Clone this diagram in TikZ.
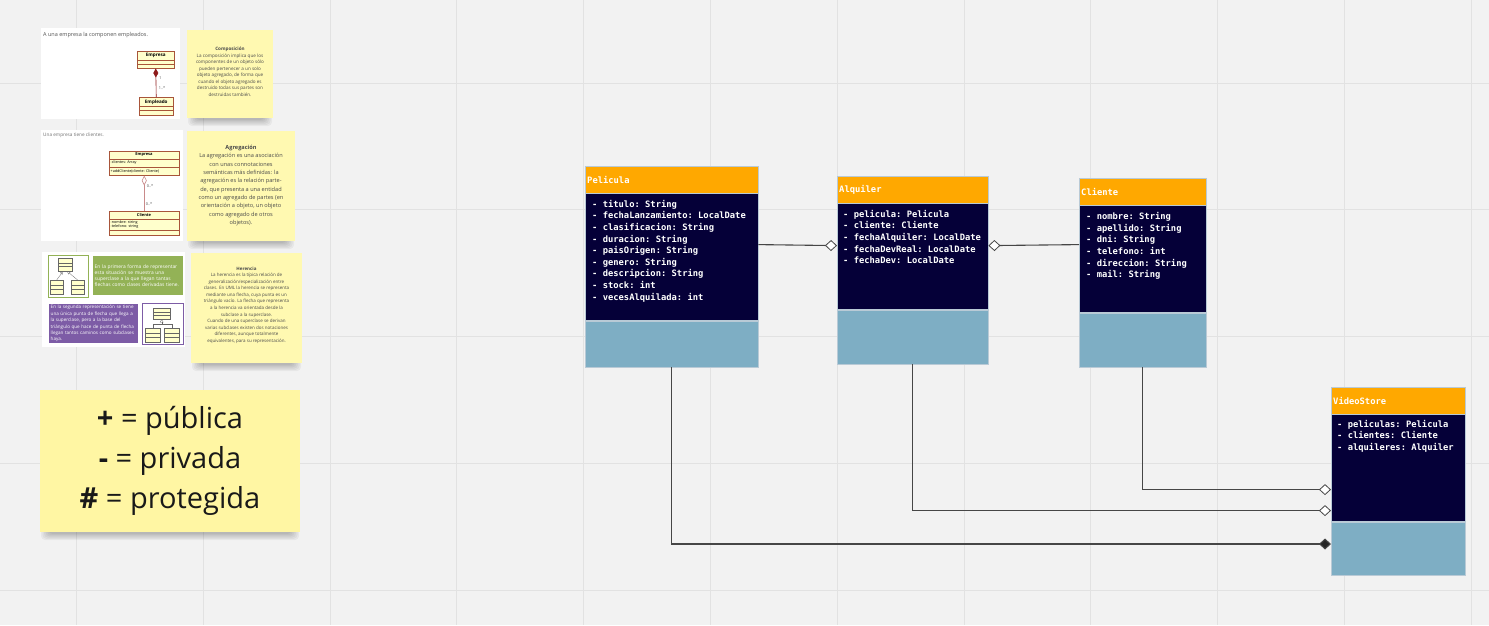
\documentclass[tikz,border=0pt]{standalone}
\usepackage{fontspec}
\setmainfont{Open Sans}
\setmonofont{DejaVu Sans Mono}
\usepackage{xcolor}
\usetikzlibrary{calc,arrows.meta,positioning}
\definecolor{canvas}{HTML}{F2F2F2}
\definecolor{gridc}{HTML}{E2E2E2}
\definecolor{head}{HTML}{FFA800}
\definecolor{navy}{HTML}{050038}
\definecolor{opsbg}{HTML}{7EAEC4}
\definecolor{edge}{HTML}{B9CAD6}
\definecolor{wire}{HTML}{464646}
\definecolor{sticky}{HTML}{FFF9B1}
\definecolor{stickyb}{HTML}{FFF6A3}
\definecolor{umlfill}{HTML}{FFFFCC}
\definecolor{umledge}{HTML}{A8553A}
\definecolor{umlred}{HTML}{8E1B1B}
\definecolor{umlpink}{HTML}{C98A8A}
\definecolor{olive}{HTML}{93B256}
\definecolor{violet}{HTML}{7D5CA6}
\definecolor{caption}{HTML}{555555}
\definecolor{notetxt}{HTML}{4A4A4A}
\tikzset{
  gridline/.style={draw=gridc, line width=0.8pt},
  clshead/.style={rectangle, fill=head, draw=edge, line width=0.4pt, inner xsep=2pt, inner ysep=0pt,
    minimum height=27pt, text=white, font=\ttfamily\bfseries\fontsize{8.8}{11.6}\selectfont,
    align=left, anchor=north west},
  clsbody/.style={rectangle, fill=navy, draw=edge, line width=0.4pt, inner sep=0pt, anchor=north},
  clsops/.style={rectangle, fill=opsbg, draw=edge, line width=0.4pt, inner sep=0pt, anchor=north},
  attrs/.style={text=white, font=\ttfamily\bfseries\fontsize{8.8}{11.6}\selectfont, align=left,
    inner sep=0pt, anchor=north west},
  wire/.style={draw=wire, line width=1.1pt},
  aggto/.style={-{Diamond[fill=white, length=12pt, width=11pt, line width=0.8pt]}},
  aggfrom/.style={{Diamond[fill=white, length=12pt, width=11pt, line width=0.8pt]}-},
  compto/.style={-{Diamond[fill=black!85, length=12pt, width=11pt]}},
  shot/.style={rectangle, fill=white, inner sep=0pt, anchor=north west},
  captxt/.style={text=caption, inner sep=0pt, anchor=west},
  shade/.style={fill=black, opacity=0.045, rounded corners=4pt},
  note/.style={rectangle, fill=sticky, inner sep=0pt, anchor=north west},
  notetext/.style={text=notetxt, align=center, inner sep=0pt},
  sections/.style n args={3}{path picture={
    \draw[draw=#3, line width=0.4pt]
      ($(path picture bounding box.north west)!#1!(path picture bounding box.south west)$) --
      ($(path picture bounding box.north east)!#1!(path picture bounding box.south east)$)
      ($(path picture bounding box.north west)!#2!(path picture bounding box.south west)$) --
      ($(path picture bounding box.north east)!#2!(path picture bounding box.south east)$);}},
  umlbox/.style={rectangle, fill=umlfill, draw=umledge, line width=0.5pt, inner sep=0pt, anchor=north west},
  tinybox/.style={rectangle, fill=umlfill, draw=black!60, line width=0.3pt, inner sep=0pt,
    anchor=north west, sections={0.35}{0.65}{black!60}},
  umlname/.style={inner sep=0pt, font=\bfseries\fontsize{4.6}{5}\selectfont},
  umltext/.style={inner sep=0pt, anchor=west, font=\fontsize{3.7}{4}\selectfont},
  mult/.style={inner sep=0pt, text=black!70, font=\fontsize{3.8}{4}\selectfont},
  framebox/.style={rectangle, fill=white, line width=0.9pt, inner sep=0pt, anchor=north west},
  tinywire/.style={draw=black!60, line width=0.3pt},
  colbox/.style={rectangle, inner sep=0pt, anchor=north west, text=white, align=left},
}
\begin{document}
\begin{tikzpicture}[x=1pt, y=-1pt]
\useasboundingbox (0,0) rectangle (1489,625);
\fill[canvas] (0,0) rectangle (1489,625);
\foreach \gx in {0,...,11} \draw[gridline] ({76.4+126.8*\gx},0) -- ++(0,625);
\foreach \gy in {0,...,4} \draw[gridline] (0,{83+126.8*\gy}) -- ++(1489,0);

% --- class Pelicula
\node[clshead, text width=169pt] (pel-head) at (585,166) {Pelicula};
\node[clsbody, minimum width=173pt, minimum height=127pt] (pel-body) at (pel-head.south) {};
\node[clsops, minimum width=173pt, minimum height=46pt] (pel-ops) at (pel-body.south) {};
\node[attrs] (pel-attr) at ([xshift=7pt, yshift=-5.5pt]pel-body.north west)
  {\strut- titulo: String\\- fechaLanzamiento: LocalDate\\- clasificacion: String\\- duracion: String\\
   - paisOrigen: String\\- genero: String\\- descripcion: String\\- stock: int\\- vecesAlquilada: int};

% --- class Alquiler
\node[clshead, text width=147pt] (alq-head) at (837,176) {Alquiler};
\node[clsbody, minimum width=151pt, minimum height=106pt] (alq-body) at (alq-head.south) {};
\node[clsops, minimum width=151pt, minimum height=54pt] (alq-ops) at (alq-body.south) {};
\node[attrs] (alq-attr) at ([xshift=6pt, yshift=-5.5pt]alq-body.north west)
  {\strut- pelicula: Pelicula\\- cliente: Cliente\\- fechaAlquiler: LocalDate\\- fechaDevReal: LocalDate\\
   - fechaDev: LocalDate};

% --- class Cliente
\node[clshead, text width=123pt] (cli-head) at (1079,178) {Cliente};
\node[clsbody, minimum width=127pt, minimum height=107pt] (cli-body) at (cli-head.south) {};
\node[clsops, minimum width=127pt, minimum height=54pt] (cli-ops) at (cli-body.south) {};
\node[attrs] (cli-attr) at ([xshift=7pt, yshift=-6pt]cli-body.north west)
  {\strut- nombre: String\\- apellido: String\\- dni: String\\- telefono: int\\- direccion: String\\
   - mail: String};

% --- class VideoStore
\node[clshead, text width=130pt] (vs-head) at (1331,387) {VideoStore};
\node[clsbody, minimum width=134pt, minimum height=107pt] (vs-body) at (vs-head.south) {};
\node[clsops, minimum width=134pt, minimum height=53pt] (vs-ops) at (vs-body.south) {};
\node[attrs] (vs-attr) at ([xshift=6pt, yshift=-4.5pt]vs-body.north west)
  {\strut- peliculas: Pelicula\\- clientes: Cliente\\- alquileres: Alquiler};

% --- relations
\draw[wire, aggto] ([yshift=12.5pt]pel-body.east) -- ([yshift=11pt]alq-body.west);
\draw[wire, aggfrom] ([yshift=11pt]alq-body.east) -- ([yshift=14.5pt]cli-body.west);
\draw[wire, aggto] (cli-ops.south) |- ([yshift=-21.5pt]vs-body.west);
\draw[wire, aggto] (alq-ops.south) |- ([yshift=-42.5pt]vs-body.west);
\draw[wire, compto] (pel-ops.south) |- ([yshift=4.5pt]vs-ops.west);

% soft shadows under the sticky notes
\foreach \xa/\xb/\yb in {187/273/118, 187/295/241, 191/302/363, 40/300/532}
  \foreach \k in {0,...,5}
    \fill[shade] ({\xa+1+1.5*\k},{\yb-12}) rectangle ({\xb-1-1.5*\k},{\yb+8-1.2*\k});

% --- composicion
\node[shot, minimum width=139pt, minimum height=91pt] (shot-comp) at (41,28) {};
\node[captxt, font=\fontsize{5.5}{6}\selectfont] (cap-comp) at (43,35) {A una empresa la componen empleados.};
\node[umlbox, minimum width=37pt, minimum height=17pt, sections={0.53}{0.76}{umledge}] (empresa1) at (137,51) {};
\node[umlname] at ($(empresa1.north)!0.27!(empresa1.south)$) {Empresa};
\node[umlbox, minimum width=34pt, minimum height=18pt, sections={0.5}{0.72}{umledge}] (empleado1) at (139,97) {};
\node[umlname] at ($(empleado1.north)!0.26!(empleado1.south)$) {Empleado};
\draw[draw=umlred, line width=0.6pt, {Diamond[fill=umlred, length=9pt, width=5pt]}-] (empresa1.south) -- (empleado1.north);
\node[mult] at (160.5,78) {1};
\node[mult] at (162,88) {1..*};
\node[note, minimum width=86pt, minimum height=88pt] (note-comp) at (187,30) {};
\node[notetext, font=\fontsize{4.6}{6.5}\selectfont] (txt-comp) at (230,72)
  {\textbf{Composición}\\La composición implica que los\\componentes de un objeto sólo\\pueden pertenecer a un solo\\
   objeto agregado, de forma que\\cuando el objeto agregado es\\destruido todas sus partes son\\destruidas también.};

% --- agregacion
\node[shot, minimum width=142pt, minimum height=111pt] (shot-agr) at (41,130) {};
\node[captxt, text=black!55, font=\fontsize{4.7}{5}\selectfont] (cap-agr) at (43,135) {Una empresa tiene clientes.};
\node[umlbox, minimum width=70pt, minimum height=24pt, sections={0.33}{0.67}{umledge}] (empresa2) at (109,151) {};
\node[umlname, font=\bfseries\fontsize{4}{4.5}\selectfont] at (144,155) {Empresa};
\node[umltext] at (110.5,163) {-clientes: Array};
\node[umltext] at (110.5,171) {+addCliente(cliente: Cliente)};
\node[umlbox, minimum width=70pt, minimum height=24pt, sections={0.33}{0.79}{umledge}] (cliente2) at (109,211) {};
\node[umlname, font=\bfseries\fontsize{4}{4.5}\selectfont] at (144,215) {Cliente};
\node[umltext, align=left, font=\fontsize{3.7}{4}\selectfont] at (110.5,224.5) {-nombre: string\\-telefono: string};
\draw[draw=umlpink, line width=0.6pt, {Diamond[fill=white, length=10pt, width=5pt]}-] (empresa2.south) -- (cliente2.north);
\node[mult] at (150,186) {0..*};
\node[mult] at (149,204) {0..*};
\node[note, minimum width=108pt, minimum height=110pt] (note-agr) at (187,131) {};
\node[notetext, font=\fontsize{5.6}{8.33}\selectfont] (txt-agr) at (241,185.5)
  {\textbf{Agregación}\\La agregación es una asociación\\con unas connotaciones\\semánticas más definidas: la\\
   agregación es la relación parte-\\de, que presenta a una entidad\\como un agregado de partes (en\\
   orientación a objeto, un objeto\\como agregado de otros\\objetos).};

% --- herencia
\node[shot, minimum width=143pt, minimum height=95pt] (shot-her) at (42,252) {};
\node[framebox, draw=olive, minimum width=40pt, minimum height=42pt] (frame-a) at (48,255) {};
\node[tinybox, minimum width=14pt, minimum height=13pt] (sup-a) at (58,258) {};
\node[tinybox, minimum width=13pt, minimum height=14pt] (sub-a1) at (50,280) {};
\node[tinybox, minimum width=13pt, minimum height=14pt] (sub-a2) at (71,280) {};
\draw[tinywire, -{Triangle[open, length=3pt, width=3pt]}] (sub-a1.north) -- ([xshift=-2pt]sup-a.south);
\draw[tinywire, -{Triangle[open, length=3pt, width=3pt]}] (sub-a2.north) -- ([xshift=2pt]sup-a.south);
\node[colbox, fill=olive, minimum width=90pt, minimum height=39pt, text width=90pt,
  font=\fontsize{4.9}{6}\selectfont] (box-first) at (93,256)
  {\hspace*{1.5pt}\makebox[86pt][s]{En la primera forma de representar}\\
   \hspace*{1.5pt}\makebox[86pt][s]{esta situación se muestra una}\\
   \hspace*{1.5pt}\makebox[86pt][s]{superclase a la que llegan tantas}\\
   \hspace*{1.5pt}flechas como clases derivadas tiene.};
\node[colbox, fill=violet, minimum width=89pt, minimum height=39pt, text width=89pt,
  font=\fontsize{4.6}{6.4}\selectfont] (box-second) at (49,304)
  {\hspace*{1.5pt}\makebox[86pt][s]{En la segunda representación se tiene}\\
   \hspace*{1.5pt}\makebox[86pt][s]{una única punta de flecha que llega a}\\
   \hspace*{1.5pt}\makebox[86pt][s]{la superclase, pero a la base del}\\
   \hspace*{1.5pt}\makebox[86pt][s]{triángulo que hace de punta de flecha}\\
   \hspace*{1.5pt}\makebox[86pt][s]{llegan tantos caminos como subclases}\\
   \hspace*{1.5pt}haya.};
\node[framebox, draw=violet, minimum width=41pt, minimum height=41pt] (frame-b) at (142,303) {};
\node[tinybox, minimum width=17pt, minimum height=11pt] (sup-b) at (153,308) {};
\node[tinybox, minimum width=15pt, minimum height=14pt] (sub-b1) at (145,328) {};
\node[tinybox, minimum width=15pt, minimum height=14pt] (sub-b2) at (164,328) {};
\coordinate (fork-b) at ($(sup-b.south)+(0,5)$);
\draw[tinywire] (sub-b1.north) |- (fork-b) -| (sub-b2.north);
\draw[tinywire, -{Triangle[open, length=3pt, width=3.5pt]}] (fork-b) -- (sup-b.south);
\node[note, minimum width=111pt, minimum height=110pt] (note-her) at (191,253) {};
\node[notetext, font=\fontsize{4.5}{6.55}\selectfont] (txt-her) at (246.5,305)
  {\textbf{Herencia}\\La herencia es la típica relación de\\generalización/especialización entre\\
   clases. En UML la herencia se representa\\mediante una flecha, cuya punta es un\\
   triángulo vacío. La flecha que representa\\a la herencia va orientada desde la\\
   subclase a la superclase.\\Cuando de una superclase se derivan\\varias subclases existen dos notaciones\\
   diferentes, aunque totalmente\\equivalentes, para su representación.};

% --- leyenda
\node[note, fill=stickyb, minimum width=260pt, minimum height=142pt] (legend) at (40,390) {};
\node[notetext, text=black!90, font=\fontsize{29}{40}\selectfont] (legend-txt) at (170,461)
  {\textbf{+} = pública\\\textbf{-} = privada\\\textbf{\#} = protegida};
\end{tikzpicture}
\end{document}
